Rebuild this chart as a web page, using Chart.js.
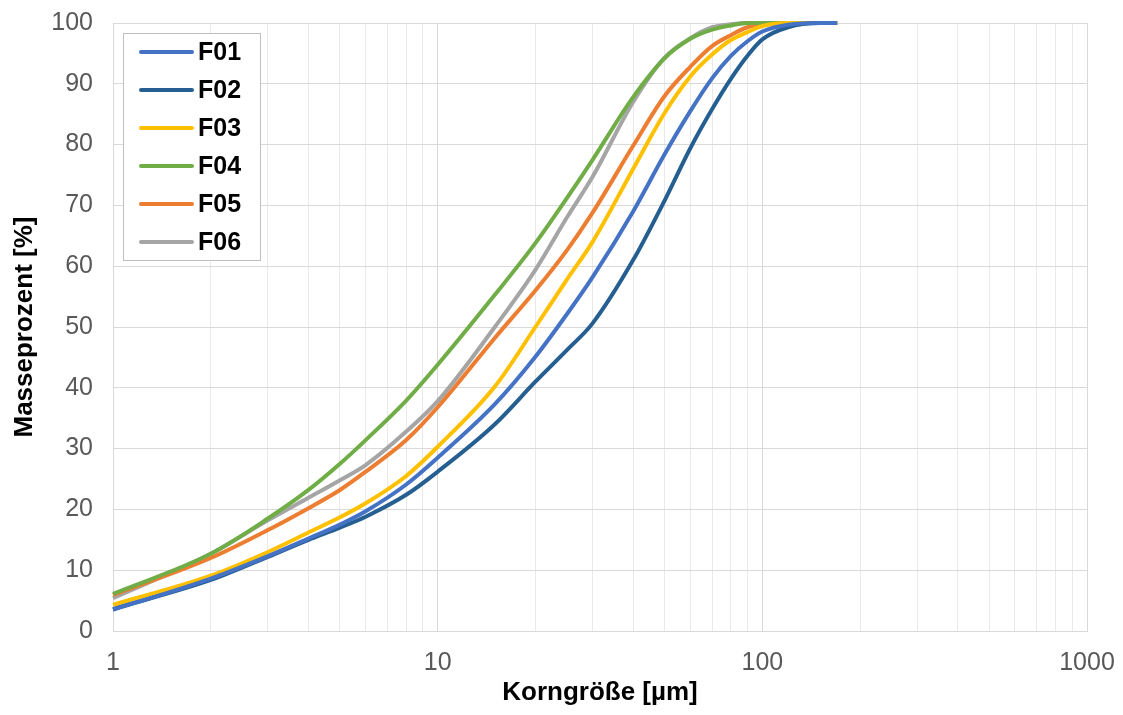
<!DOCTYPE html>
<html>
<head>
<meta charset="utf-8">
<script src="https://cdn.jsdelivr.net/npm/chart.js@4.4.1/dist/chart.umd.min.js"></script>
<style>
  html, body { margin: 0; padding: 0; background: #fff; }
  #wrap { width: 1123px; height: 715px; }
</style>
</head>
<body>
<div id="wrap"><canvas id="psdChart"></canvas></div>
<script>
// Korngröße in µm (x), Masseprozent in % (y).
const grainSizes = [1, 2, 3, 4, 5, 6, 8, 10, 15, 20, 25, 30, 40, 50, 60, 70, 80, 90, 100, 120, 150, 170];

const f01 = [3.5, 8.6, 12.3, 15.2, 17.5, 19.7, 24.1, 28.5, 37.3, 45.1, 52.1, 58.2, 69.0, 78.4, 85.5, 90.9, 94.6, 97.0, 98.6, 99.7, 100, 100];
const f02 = [3.6, 8.4, 12.2, 15.0, 17.0, 18.8, 22.4, 26.2, 34.0, 41.0, 46.2, 50.6, 61.0, 70.8, 79.4, 85.8, 90.8, 94.6, 97.3, 99.3, 100, 100];
const f03 = [4.3, 9.1, 13.0, 16.2, 18.7, 21.0, 25.5, 30.3, 40.2, 50.0, 57.8, 64.0, 76.0, 85.2, 91.2, 94.8, 97.2, 98.5, 99.5, 100, 100, 100];
const f04 = [6.1, 12.7, 18.5, 23.2, 27.5, 31.4, 37.9, 43.8, 55.3, 63.8, 71.2, 77.5, 87.8, 94.2, 97.4, 98.9, 99.6, 100, 100, 100, 100, 100];
const f05 = [5.9, 12.0, 16.6, 20.2, 23.2, 26.2, 31.4, 36.8, 48.2, 56.0, 62.6, 68.8, 79.8, 88.0, 92.8, 96.2, 98.0, 99.3, 99.8, 100, 100, 100];
const f06 = [5.4, 12.7, 18.2, 21.9, 24.8, 27.3, 32.8, 37.8, 50.0, 59.4, 68.0, 74.7, 87.0, 94.3, 97.5, 99.3, 99.8, 100, 100, 100, 100, 100];

const seriesNames = ["F01", "F02", "F03", "F04", "F05", "F06"];
const seriesValues = [f01, f02, f03, f04, f05, f06];
const seriesColors = ["#4472c4", "#255e91", "#ffc000", "#70ad47", "#ed7d31", "#a5a5a5"];

// Log axis grid lines and the labelled decades.
const xGridValues = [1, 2, 3, 4, 5, 6, 7, 8, 9, 10, 20, 30, 40, 50, 60, 70, 80, 90,
  100, 200, 300, 400, 500, 600, 700, 800, 900, 1000];
const xTickLabels = [1, 10, 100, 1000];

const fontFamily = "'Liberation Sans', Arial, sans-serif";

// Legend box drawn inside the plot area, top left.
const boxLegend = {
  id: "boxLegend",
  afterDraw(chart) {
    const { ctx } = chart;
    ctx.save();
    ctx.fillStyle = "#ffffff";
    ctx.fillRect(123, 33, 138, 228);
    ctx.strokeStyle = "#bfbfbf";
    ctx.lineWidth = 1;
    ctx.strokeRect(123.5, 33.5, 137, 227);
    chart.data.datasets.forEach((ds, i) => {
      const y = 52 + i * 38;
      ctx.strokeStyle = ds.borderColor;
      ctx.lineWidth = 4;
      ctx.lineCap = "round";
      ctx.beginPath();
      ctx.moveTo(141, y);
      ctx.lineTo(192, y);
      ctx.stroke();
      ctx.fillStyle = "#000000";
      ctx.font = `bold 25px ${fontFamily}`;
      ctx.textBaseline = "middle";
      ctx.fillText(ds.label, 198, y + 1);
    });
    ctx.restore();
  },
};

const buildChart = () => {
  const ctx = document.getElementById("psdChart");

  const datasets = seriesNames.map((name, i) => ({
    label: name,
    data: grainSizes.map((x, j) => ({ x, y: seriesValues[i][j] })),
    borderColor: seriesColors[i],
    backgroundColor: seriesColors[i],
    borderWidth: 4,
    pointRadius: 0,
    cubicInterpolationMode: "monotone",
    clip: false,
  }));

  new Chart(ctx, {
    type: "line",
    data: { datasets },
    plugins: [boxLegend],
    options: {
      responsive: true,
      maintainAspectRatio: false,
      animation: false,
      layout: { padding: { top: 23, right: 36, left: 0, bottom: 0 } },
      plugins: {
        legend: { display: false },
        tooltip: { enabled: false },
      },
      scales: {
        x: {
          type: "logarithmic",
          min: 1,
          max: 1000,
          afterBuildTicks: (scale) => {
            scale.ticks = xGridValues.map((value) => ({ value }));
          },
          afterFit: (scale) => {
            // fixed axis band so the plot area lines up with the reference
            scale.height = 84;
            scale.paddingLeft = 0;
            scale.paddingRight = 0;
          },
          ticks: {
            autoSkip: false,
            maxRotation: 0,
            padding: 17,
            color: "#595959",
            font: { family: fontFamily, size: 25 },
            callback: (value) => (xTickLabels.includes(value) ? String(value) : ""),
          },
          grid: {
            drawTicks: false,
            color: (c) =>
              c.tick && xTickLabels.includes(c.tick.value) ? "#d9d9d9" : "#e9e9e9",
            lineWidth: 1,
          },
          border: { color: "#d9d9d9", width: 1 },
          title: {
            display: true,
            text: "Korngröße [µm]",
            color: "#000000",
            font: { family: fontFamily, size: 26, weight: "bold" },
            padding: { top: 0, bottom: 7 },
          },
        },
        y: {
          min: 0,
          max: 100,
          afterFit: (scale) => {
            scale.width = 113;
            scale.paddingTop = 0;
            scale.paddingBottom = 0;
          },
          ticks: {
            stepSize: 10,
            padding: 20,
            color: "#595959",
            font: { family: fontFamily, size: 25 },
          },
          grid: {
            drawTicks: false,
            color: "#d9d9d9",
            lineWidth: 1,
          },
          border: { color: "#d9d9d9", width: 1 },
          title: {
            display: true,
            text: "Masseprozent [%]",
            color: "#000000",
            font: { family: fontFamily, size: 26, weight: "bold" },
            padding: { top: 9, bottom: 0 },
          },
        },
      },
    },
  });
};

document.addEventListener("DOMContentLoaded", () => {
  buildChart();
});
</script>
</body>
</html>
